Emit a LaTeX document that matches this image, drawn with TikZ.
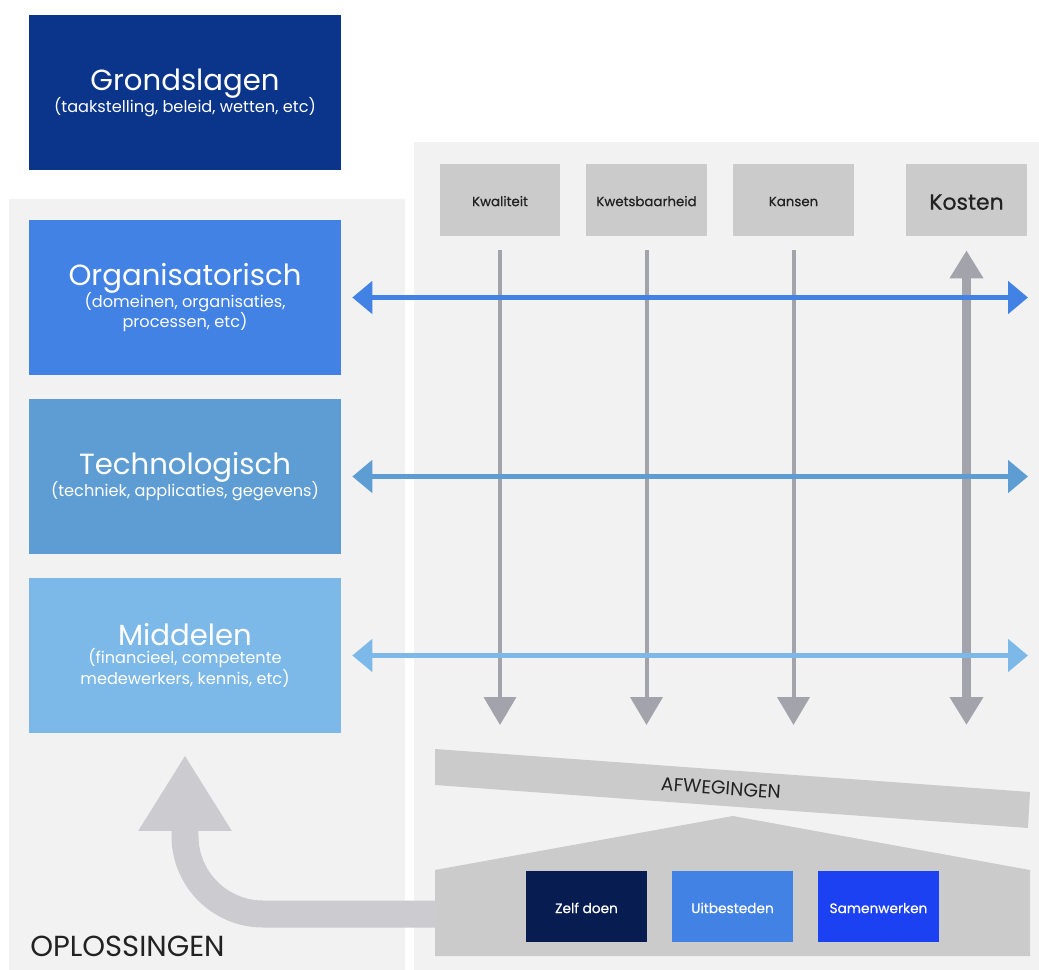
\documentclass[tikz,border=0pt]{standalone}
\usepackage{fontspec}
\setmainfont{Poppins}
\usetikzlibrary{arrows.meta}
\definecolor{paneel}{HTML}{F2F2F2}
\definecolor{vak}{HTML}{CBCBCB}
\definecolor{pijlgrijs}{HTML}{A3A3AB}
\definecolor{boog}{HTML}{CBCBD0}
\definecolor{tekst}{HTML}{222222}
\definecolor{grondc}{HTML}{0A358A}
\definecolor{orgc}{HTML}{4282E4}
\definecolor{techc}{HTML}{5E9DD3}
\definecolor{midc}{HTML}{7DB9E8}
\definecolor{zelfc}{HTML}{071D52}
\definecolor{samenc}{HTML}{1B41F2}
\begin{document}
\begin{tikzpicture}[x=0.02cm,y=-0.02cm,
  laag/.style={fill=#1,text=white,minimum width=6.24cm,minimum height=3.1cm,inner sep=0,align=center,font=\fontsize{9.2}{11.8}\selectfont},
  aspect/.style={fill=vak,text=tekst,minimum width=2.42cm,minimum height=1.44cm,inner sep=0,text height=7pt,text depth=0pt,font=\fontsize{7.6}{8}\selectfont\addfontfeature{FakeBold=0.6}},
  keuze/.style={fill=#1,text=white,minimum width=2.42cm,minimum height=1.42cm,inner sep=0,text height=7.5pt,text depth=0pt,font=\fontsize{7.8}{8}\selectfont\addfontfeature{FakeBold=0.6}},
  as/.style={line width=0.08cm,pijlgrijs,-{Triangle[length=0.56cm,width=0.64cm]}},
  dwars/.style={line width=0.1cm,#1,{Triangle[length=0.4cm,width=0.64cm]}-{Triangle[length=0.4cm,width=0.64cm]}}]
\useasboundingbox (0,0) rectangle (1039,970);
\fill[paneel] (9,199) rectangle (405,970);
\fill[paneel] (414,142) rectangle (1039,970);

\node[laag=grondc] (grond) at (185,92.5) {{\fontsize{16.6}{16}\selectfont Grondslagen}\\[-1.5pt](taakstelling, beleid, wetten, etc)};
\node[laag=orgc] (org) at (185,297.5) {{\fontsize{16.6}{16}\selectfont Organisatorisch}\\[-1.5pt](domeinen, organisaties,\\processen, etc)};
\node[laag=techc] (tech) at (185,476.5) {{\fontsize{16.6}{16}\selectfont Technologisch}\\[-1.5pt](techniek, applicaties, gegevens)};
\node[laag=midc] (mid) at (185,655.5) {{\fontsize{16.6}{16}\selectfont Middelen}\\[-1.5pt](financieel, competente\\medewerkers, kennis, etc)};

\node[aspect] (kwal) at (500,200) {Kwaliteit};
\node[aspect] (kwets) at (646.5,200) {Kwetsbaarheid};
\node[aspect] (kans) at (793.5,200) {Kansen};
\node[aspect,text height=11pt,font=\fontsize{12.5}{13}\selectfont\addfontfeature{FakeBold=0.6}] (kost) at (966.5,200) {Kosten};

\coordinate (onder) at (0,725);
\coordinate (rechts) at (1028,0);
\draw[as] ([yshift=-0.28cm]kwal.south) -- (kwal.south |- onder);
\draw[as] ([yshift=-0.28cm]kwets.south) -- (kwets.south |- onder);
\draw[as] ([yshift=-0.28cm]kans.south) -- (kans.south |- onder);
\draw[as,line width=0.18cm,{Triangle[length=0.56cm,width=0.64cm]}-{Triangle[length=0.56cm,width=0.64cm]}] ([yshift=-0.28cm]kost.south) -- (kost.south |- onder);

\draw[dwars=orgc] ([xshift=0.22cm]org.east) -- (org.east -| rechts);
\draw[dwars=techc] ([xshift=0.22cm]tech.east) -- (tech.east -| rechts);
\draw[dwars=midc] ([xshift=0.22cm]mid.east) -- (mid.east -| rechts);

\fill[vak] (435,749) -- (1030,792) -- (1028,828) -- (435,785) -- cycle;
\node[rotate=-4.1,text=tekst,font=\fontsize{10.7}{12}\selectfont] (afw) at (721,788) {AFWEGINGEN};

\coordinate (huis) at (435,914);
\coordinate (doel) at (185,755);
\draw[boog,line width=0.54cm,rounded corners=1.56cm,-{Triangle[length=1.52cm,width=1.76cm]}] (huis) -- (huis -| doel) -- (doel);
\fill[vak] (435,870) -- (733,816) -- (1030,870) -- (1030,956) -- (435,956) -- cycle;

\node[keuze=zelfc] (zelf) at (586.5,906.5) {Zelf doen};
\node[keuze=orgc] (uit) at (732.5,906.5) {Uitbesteden};
\node[keuze=samenc] (samen) at (878.5,906.5) {Samenwerken};

\node[anchor=base west,text=tekst,font=\fontsize{16.5}{17}\selectfont,inner sep=0] (opl) at (30,956) {OPLOSSINGEN};
\end{tikzpicture}
\end{document}
